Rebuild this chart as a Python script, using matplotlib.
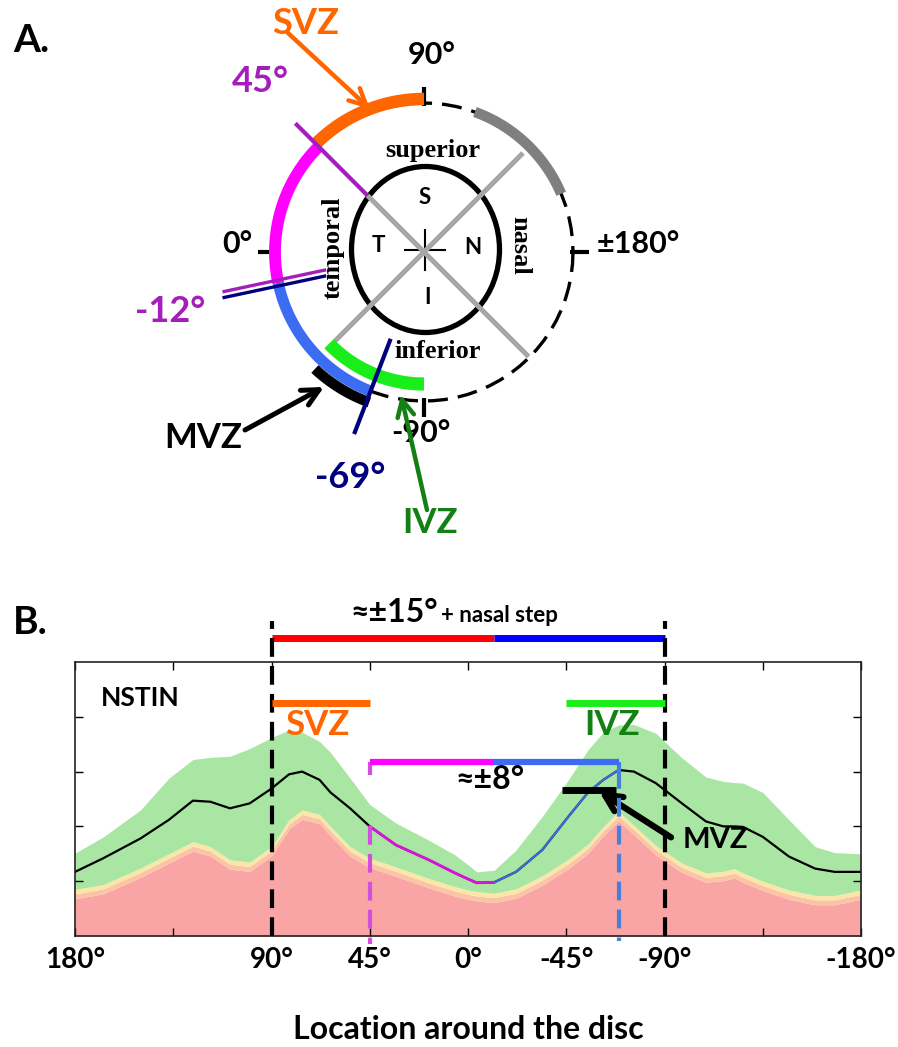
import numpy as np
import matplotlib
matplotlib.use('Agg')
import matplotlib.pyplot as plt
from matplotlib.patches import Ellipse

plt.rcParams['font.family'] = ['Lato', 'DejaVu Sans']
plt.rcParams['font.weight'] = 'bold'
plt.rcParams['axes.labelweight'] = 'bold'

# Profile around the disc (deg), NSTIN order: 180 -> -180
loc_deg = [180, 167, 150, 137, 126, 118, 109, 100, 90, 82, 76, 68, 63, 54, 45, 33, 18, 6, 0,
           -4, -12, -22, -34, -46, -55, -62, -69, -76, -86, -98, -109, -117, -122, -126,
           -135, -147, -159, -168, -180]
median = [1.17, 1.42, 1.78, 2.12, 2.47, 2.45, 2.33, 2.42, 2.69, 2.95, 3.00, 2.85, 2.62, 2.33, 2.00,
          1.66, 1.39, 1.15, 1.04, 0.97, 0.98, 1.17, 1.57, 2.18, 2.62, 2.85, 3.03, 3.00, 2.79,
          2.42, 2.09, 2.00, 2.00, 1.99, 1.81, 1.45, 1.23, 1.17, 1.17]
upper = [1.51, 1.81, 2.30, 2.88, 3.22, 3.26, 3.28, 3.42, 3.62, 3.76, 3.72, 3.55, 3.35, 2.88, 2.40,
         2.06, 1.75, 1.48, 1.30, 1.17, 1.20, 1.57, 2.18, 2.85, 3.40, 3.72, 3.85, 3.86, 3.70,
         3.25, 2.90, 2.82, 2.80, 2.79, 2.62, 2.12, 1.63, 1.52, 1.50]
lower = [0.85, 0.94, 1.24, 1.50, 1.72, 1.63, 1.39, 1.35, 1.63, 2.12, 2.30, 2.22, 2.00, 1.63, 1.42,
         1.26, 1.05, 0.90, 0.84, 0.81, 0.78, 0.86, 1.10, 1.40, 1.68, 2.00, 2.27, 2.02, 1.65,
         1.33, 1.15, 1.18, 1.23, 1.15, 1.00, 0.84, 0.74, 0.74, 0.84]

# zone limits (deg)
svz = [90, 45]
ivz = [-45, -90]
mvz = [-43, -68]
split_deg = -12
wide_zone = [90, -90]
narrow_zone = [45, -69]
nasal_grey = [110, 157]
mvz_arc = [-47, -70]
ivz_arc = [-44, -90]

xtick_pos = [180, 135, 90, 45, 0, -45, -90, -135, -180]
xtick_lab = ['180°', '', '90°', '45°', '0°', '-45°', '-90°', '', '-180°']

ORANGE = '#ff6600'
LIME = '#1aee1a'
DKGREEN = '#138013'
MAGENTA = '#ff00ff'
ROYAL = '#3b6cf2'
NAVY = '#00007f'
PURPLE = '#a41fba'

fig = plt.figure(figsize=(8.98, 10.47), dpi=100)

# ---------------- A: schematic, drawn in pixel units ----------------
axA = fig.add_axes([0, 0, 1, 1])
axA.set_xlim(0, 898)
axA.set_ylim(1047, 0)
axA.axis('off')

cx, cy, R = 424, 252, 149


def pt(theta, r):
    phi = np.radians(180 - np.asarray(theta, dtype=float))
    return cx + r * np.cos(phi), cy - r * np.sin(phi)


def arc(t1, t2, r, **kw):
    x, y = pt(np.linspace(t1, t2, 80), r)
    axA.plot(x, y, solid_capstyle='butt', **kw)


def ray(theta, r1, r2, dx=0, dy=0, **kw):
    x, y = pt([theta, theta], [r1, r2])
    axA.plot(x + dx, y + dy, solid_capstyle='butt', **kw)


# dashed outer circle
arc(-180, 180, R, color='black', lw=2.4, dashes=(6, 3))
# cardinal ticks
for t in [90, -90, 180]:
    ray(t, R - 3, R + 16, color='black', lw=3)
ray(0, R + 6, R + 17, color='black', lw=3)

# inner disc
axA.add_patch(Ellipse((425.5, 249.5), 148, 166, fill=False, ec='black', lw=3.8))
axA.plot([405, 445], [250, 250], color='black', lw=1.5)
axA.plot([425, 425], [230, 270], color='black', lw=1.5)

# grey quadrant lines
ray(45, 0, 80, color='#a6a6a6', lw=3.6)
ray(135, 0, 140, color='#a6a6a6', lw=3.6)
ray(-135, 0, 148, color='#a6a6a6', lw=3.6)
ray(-45, 0, 126, color='#a6a6a6', lw=3.6)

# zones on the rim
arc(nasal_grey[0], nasal_grey[1], R, color='#7f7f7f', lw=7.5)
arc(narrow_zone[0], split_deg, R, color=MAGENTA, lw=8.5)
arc(split_deg, narrow_zone[1], R, color=ROYAL, lw=8)
arc(svz[1], svz[0], R + 4, color=ORANGE, lw=9)
arc(mvz_arc[0], mvz_arc[1], R + 11, color='black', lw=7.5)
arc(ivz_arc[0], ivz_arc[1], R - 17, color=LIME, lw=9.5)

# boundary markers
ray(45, 80, 182, color=PURPLE, lw=3)
ray(split_deg, 100, 206, dy=-3, color=PURPLE, lw=2.4)
ray(split_deg, 100, 206, dy=3, color=NAVY, lw=2.4)
ray(narrow_zone[1], 93, 195, color=NAVY, lw=3)

# labels
axA.text(13, 41, 'A.', fontsize=28, ha='left', va='center')
axA.text(306, 23, 'SVZ', fontsize=26, color=ORANGE, ha='center', va='center')
axA.text(432, 55, '90°', fontsize=22, ha='center', va='center')
axA.text(260, 82, '45°', fontsize=26, color=PURPLE, ha='center', va='center')
axA.text(237, 244, '0°', fontsize=22, ha='center', va='center')
axA.text(638, 244, '±180°', fontsize=22, ha='center', va='center')
axA.text(170, 312, '-12°', fontsize=26, color=PURPLE, ha='center', va='center')
axA.text(203, 438, 'MVZ', fontsize=25, ha='center', va='center')
axA.text(421, 433, '-90°', fontsize=22, ha='center', va='center')
axA.text(350, 478, '-69°', fontsize=26, color=NAVY, ha='center', va='center')
axA.text(430, 523, 'IVZ', fontsize=25, color=DKGREEN, ha='center', va='center')

for s, x, y in [('S', 425, 198), ('N', 473, 247), ('T', 378, 245), ('I', 427, 297)]:
    axA.text(x, y, s, fontsize=16, ha='center', va='center')

serif = dict(family='Liberation Serif', fontweight='bold', fontsize=19, ha='center', va='center')
axA.text(433, 150, 'superior', **serif)
axA.text(438, 352, 'inferior', **serif)
axA.text(333, 248, 'temporal', rotation=90, **serif)
axA.text(520, 245, 'nasal', rotation=-90, **serif)

# arrows
axA.annotate('', xy=(370, 109), xytext=(288, 33),
             arrowprops=dict(arrowstyle='->', color=ORANGE, lw=3.2, mutation_scale=30,
                             shrinkA=0, shrinkB=0))
axA.annotate('', xy=(324, 387), xytext=(245, 430),
             arrowprops=dict(arrowstyle='->', color='black', lw=3.6, mutation_scale=30,
                             shrinkA=0, shrinkB=0))
axA.annotate('', xy=(401, 395), xytext=(427, 510),
             arrowprops=dict(arrowstyle='->', color=DKGREEN, lw=3.2, mutation_scale=30,
                             shrinkA=0, shrinkB=0))

# ---------------- B: profile around the disc ----------------
axB = fig.add_axes([75 / 898, 111 / 1047, 786 / 898, 274 / 1047])
x = np.array(loc_deg, dtype=float)
med = np.array(median)
up = np.array(upper)
lo = np.array(lower)

axB.fill_between(x, 0, lo - 0.17, color='#f9a5a5', lw=0)
axB.fill_between(x, lo - 0.17, lo - 0.08, color='#fbc4a4', lw=0)
axB.fill_between(x, lo - 0.08, lo, color='#fae6a8', lw=0)
axB.fill_between(x, lo, up, color='#a9e6a3', lw=0)
axB.plot(x, med, color='black', lw=1.6, solid_joinstyle='round')

m1 = (x <= narrow_zone[0]) & (x >= split_deg)
m2 = (x <= split_deg) & (x >= narrow_zone[1])
axB.plot(x[m1], med[m1], color='#dd11dd', lw=2, solid_joinstyle='round')
axB.plot(x[m2], med[m2], color='#3b6cd8', lw=1.6, solid_joinstyle='round')

axB.set_xlim(180, -180)
axB.set_ylim(0, 5)
axB.set_xticks(xtick_pos)
axB.set_xticklabels(xtick_lab, fontsize=20)
axB.set_yticks([1, 2, 3, 4])
axB.set_yticklabels([])
axB.tick_params(direction='in', length=6, width=1, top=True, right=True, pad=8)
for sp in axB.spines.values():
    sp.set_linewidth(1.2)
    sp.set_color('#222222')
axB.set_xlabel('Location around the disc', fontsize=23, fontweight='bold', labelpad=30)

# zone guides
for d in wide_zone:
    axB.plot([d, d], [0, 5.75], color='black', lw=3, dashes=(4.5, 2.2), clip_on=False, zorder=5)
axB.plot([wide_zone[0], split_deg], [5.44, 5.44], color='#ff0000', lw=5, solid_capstyle='butt', clip_on=False)
axB.plot([split_deg, wide_zone[1]], [5.44, 5.44], color='#0000ff', lw=5, solid_capstyle='butt', clip_on=False)
axB.text(13.5, 5.73, '≈±15°', fontsize=23, ha='right', va='baseline')
axB.text(12.5, 5.73, '+ nasal step', fontsize=16, ha='left', va='baseline')

axB.text(150, 4.34, 'NSTIN', fontsize=19, ha='center', va='center')
axB.plot(svz, [4.26, 4.26], color=ORANGE, lw=5, solid_capstyle='butt', zorder=6)
axB.text(69, 3.85, 'SVZ', fontsize=25, color=ORANGE, ha='center', va='center')
axB.plot(ivz, [4.26, 4.26], color=LIME, lw=5, solid_capstyle='butt', zorder=6)
axB.text(-66, 3.85, 'IVZ', fontsize=25, color=DKGREEN, ha='center', va='center')

# narrow zone bracket and its guides
y8 = 3.18
axB.plot([narrow_zone[0], split_deg], [y8, y8], color=MAGENTA, lw=4.5, solid_capstyle='butt', zorder=6)
axB.plot([split_deg, narrow_zone[1]], [y8, y8], color=ROYAL, lw=4.5, solid_capstyle='butt', zorder=6)
axB.plot([narrow_zone[0]] * 2, [y8, y8 - 0.25], color='#d050dd', lw=3, solid_capstyle='butt')
axB.plot([narrow_zone[1]] * 2, [y8, y8 - 0.2], color='#4a7fd6', lw=3, solid_capstyle='butt')
i45 = loc_deg.index(narrow_zone[0])
i69 = loc_deg.index(narrow_zone[1])
axB.plot([narrow_zone[0]] * 2, [median[i45], -0.15], color='#d050dd', lw=3, dashes=(4.5, 2.2), clip_on=False, zorder=5)
axB.plot([narrow_zone[1]] * 2, [median[i69], -0.1], color='#4a7fd6', lw=3, dashes=(4.5, 2.2), clip_on=False, zorder=5)
axB.text(-10, 2.85, '≈±8°', fontsize=23, ha='center', va='center')

axB.plot(mvz, [2.66, 2.66], color='black', lw=5, solid_capstyle='butt', zorder=6)
axB.annotate('', xy=(-60, 2.64), xytext=(-93, 1.8),
             arrowprops=dict(arrowstyle='->', color='black', lw=4.5, mutation_scale=30,
                             shrinkA=0, shrinkB=0))
axB.text(-113.5, 1.75, 'MVZ', fontsize=21, ha='center', va='center')

fig.text(13 / 898, 1 - 622 / 1047, 'B.', fontsize=28, ha='left', va='center')

fig.savefig('out.png', dpi=100)
